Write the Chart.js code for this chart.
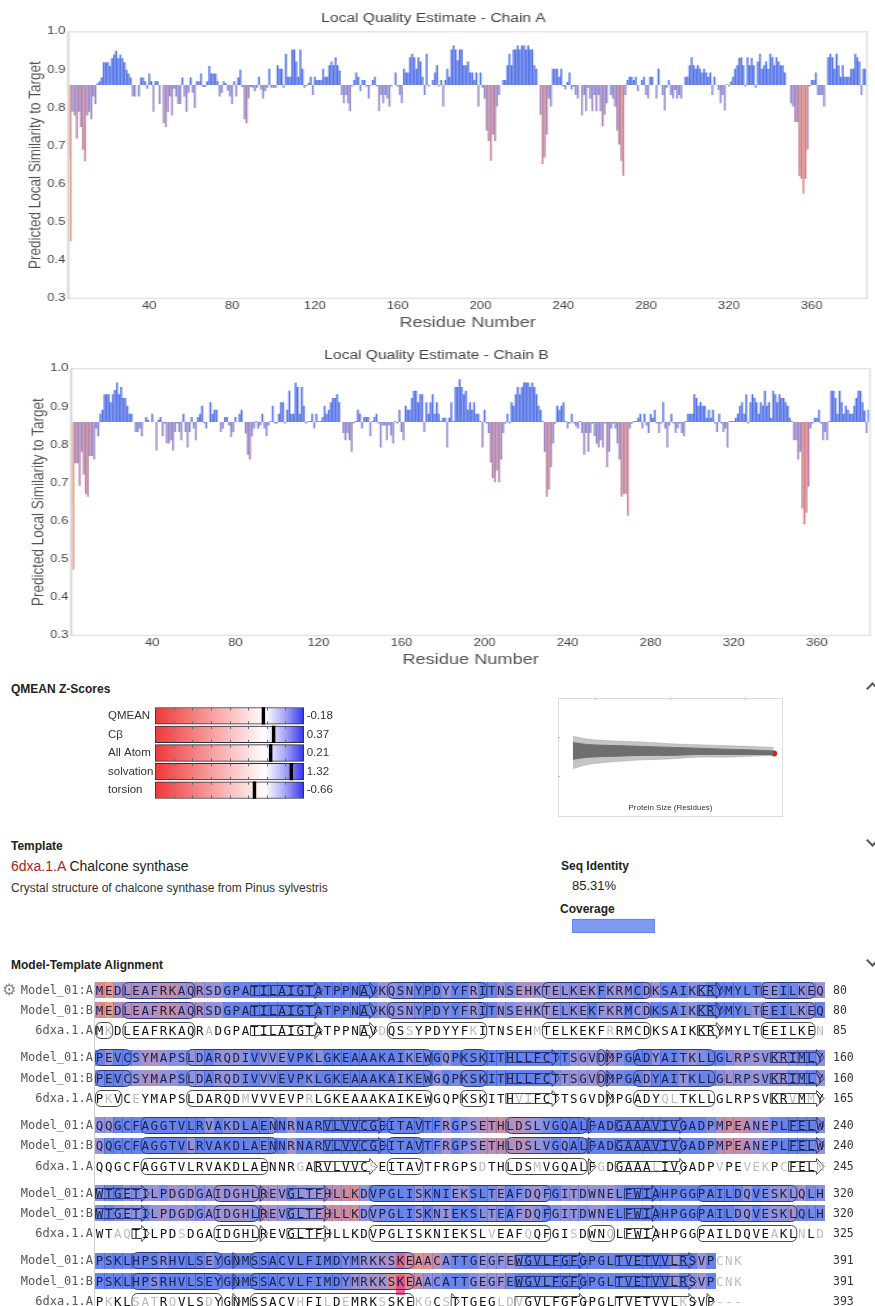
<!DOCTYPE html>
<html><head><meta charset="utf-8">
<script src="https://cdn.jsdelivr.net/npm/chart.js@4.4.1/dist/chart.umd.min.js"></script>
<style>
html,body{margin:0;padding:0;background:#fff}
body{width:875px;height:1306px;overflow:hidden;position:relative;font-family:"Liberation Sans",Arial,sans-serif;color:#222}
.a{position:absolute;white-space:nowrap}
.wrap{position:absolute;overflow:hidden}
.stretch{transform-origin:0 0;transform:scaleX(1.3);display:block}
.h{font-weight:bold;font-size:12px;line-height:12px;color:#222}
.mono{font-family:"DejaVu Sans Mono",monospace;font-size:12.5px}
.chev{position:absolute;width:7px;height:7px;border-left:2px solid #555;border-top:2px solid #555}
</style></head><body>

<div class="wrap" style="left:0;top:0;width:875px;height:337px"><canvas id="chainA" class="stretch" width="674" height="337"></canvas></div>
<div class="wrap" style="left:2.7px;top:336.6px;width:872.3px;height:337px"><canvas id="chainB" class="stretch" width="674" height="337"></canvas></div>

<div class="a h" style="left:11px;top:683.4px">QMEAN Z-Scores</div>
<canvas id="zchart" class="a" style="left:0;top:697.1px" width="345" height="112"></canvas>
<canvas id="sizechart" class="a" style="left:558px;top:698px" width="225" height="119"></canvas>

<div class="a h" style="left:11px;top:840.1px">Template</div>
<div class="a" style="left:11px;top:859.2px;font-size:14px;line-height:14px;color:#222"><span style="color:#a3262b">6dxa.1.A</span> Chalcone synthase</div>
<div class="a" style="left:11px;top:881.7px;font-size:12px;line-height:12px;color:#333">Crystal structure of chalcone synthase from Pinus sylvestris</div>
<div class="a h" style="left:561px;top:860.1px">Seq Identity</div>
<div class="a" style="left:572px;top:878.6px;font-size:13px;line-height:13px;color:#222">85.31%</div>
<div class="a h" style="left:560px;top:903.1px">Coverage</div>
<canvas id="covchart" class="a" style="left:572px;top:917px" width="83" height="18"></canvas>

<div class="a h" style="left:11px;top:959.1px">Model-Template Alignment</div>
<div class="chev" style="left:868px;top:684px;transform:rotate(45deg)"></div>
<div class="chev" style="left:868px;top:836px;transform:rotate(225deg)"></div>
<div class="chev" style="left:868px;top:956px;transform:rotate(225deg)"></div>

<div id="aln" class="a" style="left:0;top:0;width:875px;height:1306px"></div>

<script>
// ---------------- DATA ----------------
const xTicks = [40, 80, 120, 160, 200, 240, 280, 320, 360];
const yTicks = [0.3, 0.4, 0.5, 0.6, 0.7, 0.8, 0.9, 1.0];
const BASE = 0.86;

// Predicted local similarity per residue, chain A (residues 1..387 visible)
const chainA = [
0.67,0.45,0.79,0.78,0.72,0.79,0.75,0.69,0.66,0.78,
0.79,0.77,0.83,0.81,0.865,0.87,0.88,0.92,0.92,0.92,
0.91,0.93,0.94,0.95,0.93,0.94,0.93,0.92,0.90,0.89,
0.88,0.83,0.83,0.86,0.83,0.88,0.88,0.87,0.85,0.89,
0.87,0.79,0.87,0.87,0.81,0.86,0.76,0.75,0.79,0.83,
0.78,0.85,0.83,0.81,0.81,0.88,0.83,0.79,0.84,0.88,
0.84,0.80,0.87,0.87,0.89,0.855,0.855,0.87,0.91,0.89,
0.89,0.89,0.87,0.83,0.84,0.87,0.865,0.845,0.83,0.81,
0.87,0.83,0.88,0.90,0.855,0.77,0.76,0.825,0.855,0.853,
0.844,0.853,0.882,0.848,0.825,0.844,0.853,0.903,0.853,0.853,
0.853,0.912,0.903,0.903,0.853,0.942,0.882,0.882,0.953,0.953,
0.922,0.882,0.953,0.903,0.853,0.858,0.866,0.882,0.834,0.882,
0.873,0.873,0.873,0.903,0.882,0.882,0.912,0.922,0.912,0.933,
0.912,0.898,0.834,0.812,0.834,0.812,0.791,0.856,0.873,0.893,
0.882,0.844,0.873,0.873,0.856,0.825,0.858,0.873,0.882,0.856,
0.791,0.834,0.812,0.834,0.825,0.804,0.856,0.86,0.893,0.856,
0.834,0.812,0.903,0.893,0.893,0.933,0.942,0.933,0.903,0.933,
0.922,0.882,0.834,0.942,0.856,0.86,0.873,0.893,0.912,0.856,
0.873,0.804,0.873,0.903,0.882,0.953,0.964,0.953,0.925,0.953,
0.953,0.912,0.912,0.922,0.893,0.893,0.873,0.893,0.804,0.893,
0.853,0.825,0.741,0.713,0.661,0.73,0.713,0.804,0.834,0.86,
0.873,0.873,0.912,0.942,0.912,0.953,0.953,0.964,0.953,0.964,
0.964,0.953,0.964,0.953,0.953,0.912,0.903,0.86,0.782,0.653,
0.67,0.73,0.825,0.804,0.903,0.903,0.903,0.882,0.903,0.856,
0.848,0.868,0.893,0.848,0.856,0.834,0.825,0.86,0.78,0.834,
0.791,0.853,0.825,0.791,0.834,0.791,0.834,0.791,0.752,0.782,
0.812,0.86,0.834,0.825,0.804,0.741,0.704,0.661,0.622,0.834,
0.873,0.882,0.882,0.873,0.882,0.844,0.86,0.873,0.882,0.834,
0.825,0.882,0.882,0.86,0.825,0.903,0.86,0.834,0.793,0.853,
0.873,0.834,0.825,0.847,0.825,0.834,0.825,0.86,0.882,0.882,
0.912,0.933,0.912,0.903,0.912,0.903,0.893,0.903,0.893,0.882,
0.893,0.834,0.882,0.86,0.847,0.812,0.834,0.793,0.862,0.856,
0.869,0.882,0.903,0.912,0.931,0.933,0.912,0.856,0.933,0.912,
0.931,0.912,0.853,0.922,0.942,0.903,0.912,0.922,0.903,0.942,
0.933,0.912,0.933,0.922,0.912,0.912,0.893,0.86,0.86,0.812,
0.804,0.763,0.763,0.622,0.614,0.575,0.614,0.691,0.856,0.873,
0.873,0.893,0.834,0.834,0.834,0.804,0.86,0.933,0.942,0.933,
0.903,0.942,0.912,0.882,0.912,0.882,0.882,0.882,0.903,0.903,
0.942,0.933,0.922,0.834,0.903,0.903,0.812
];

// Predicted local similarity per residue, chain B
const chainB = [
0.641,0.473,0.752,0.752,0.693,0.782,0.722,0.672,0.664,0.771,
0.771,0.762,0.843,0.823,0.882,0.892,0.933,0.933,0.933,0.912,
0.933,0.944,0.964,0.933,0.952,0.923,0.923,0.903,0.882,0.882,
0.86,0.834,0.834,0.843,0.823,0.86,0.873,0.866,0.86,0.882,
0.86,0.785,0.866,0.873,0.823,0.856,0.804,0.804,0.812,0.785,
0.834,0.856,0.834,0.812,0.882,0.834,0.793,0.834,0.873,0.843,
0.812,0.873,0.882,0.903,0.857,0.843,0.86,0.912,0.882,0.892,
0.892,0.86,0.834,0.843,0.873,0.873,0.851,0.821,0.834,0.873,
0.86,0.882,0.892,0.86,0.83,0.774,0.762,0.823,0.843,0.863,
0.843,0.851,0.882,0.843,0.823,0.851,0.863,0.903,0.856,0.856,
0.882,0.912,0.912,0.856,0.892,0.942,0.882,0.882,0.964,0.952,
0.882,0.952,0.903,0.856,0.863,0.863,0.882,0.843,0.882,0.863,
0.863,0.873,0.903,0.882,0.892,0.912,0.923,0.923,0.933,0.912,
0.86,0.831,0.812,0.831,0.812,0.782,0.857,0.863,0.892,0.882,
0.843,0.873,0.873,0.873,0.823,0.863,0.873,0.882,0.856,0.793,
0.851,0.851,0.812,0.851,0.825,0.804,0.863,0.856,0.892,0.834,
0.812,0.903,0.892,0.892,0.923,0.942,0.942,0.912,0.933,0.933,
0.834,0.912,0.882,0.912,0.933,0.882,0.912,0.882,0.863,0.871,
0.871,0.793,0.871,0.912,0.863,0.952,0.952,0.972,0.952,0.933,
0.942,0.892,0.912,0.892,0.912,0.882,0.882,0.863,0.793,0.892,
0.856,0.831,0.754,0.713,0.702,0.733,0.702,0.762,0.831,0.856,
0.882,0.856,0.912,0.903,0.933,0.952,0.933,0.952,0.964,0.964,
0.964,0.952,0.964,0.952,0.933,0.903,0.892,0.863,0.782,0.664,
0.683,0.742,0.804,0.856,0.903,0.892,0.903,0.912,0.863,0.843,
0.856,0.882,0.856,0.849,0.843,0.863,0.831,0.774,0.831,0.782,
0.831,0.856,0.823,0.804,0.793,0.812,0.793,0.856,0.742,0.782,
0.843,0.856,0.843,0.804,0.762,0.664,0.672,0.672,0.614,0.843,
0.856,0.863,0.863,0.871,0.882,0.843,0.882,0.851,0.831,0.882,
0.871,0.892,0.856,0.831,0.856,0.912,0.843,0.793,0.851,0.882,
0.856,0.831,0.843,0.856,0.831,0.823,0.863,0.882,0.882,0.882,
0.933,0.923,0.903,0.912,0.903,0.903,0.871,0.892,0.871,0.892,
0.856,0.834,0.882,0.856,0.834,0.843,0.793,0.863,0.863,0.863,
0.871,0.882,0.903,0.912,0.882,0.933,0.856,0.912,0.933,0.923,
0.912,0.882,0.912,0.903,0.942,0.903,0.912,0.871,0.942,0.933,
0.912,0.933,0.923,0.923,0.912,0.903,0.871,0.863,0.812,0.812,
0.762,0.782,0.633,0.592,0.622,0.691,0.843,0.856,0.871,0.871,
0.892,0.856,0.812,0.834,0.812,0.863,0.942,0.942,0.923,0.882,
0.942,0.912,0.882,0.903,0.892,0.882,0.882,0.903,0.923,0.942,
0.942,0.912,0.89,0.831,0.892,0.851,0.812
];

// QMEAN Z-scores
const zLabels = ['QMEAN', 'C\u03b2', 'All Atom', 'solvation', 'torsion'];
const zValues = [-0.18, 0.37, 0.21, 1.32, -0.66];
const zRange = [-6, 2];

// Reference-set cloud (protein size vs score): envelopes
const sizeX      = [40,   50,   100,  200,  300,  400,  500,  600,  700,  780];
const lightUpper = [62.5, 62.1, 59.2, 57.3, 56.3, 54.4, 53.4, 52.4, 51.5, 50.5];
const lightLower = [27.0, 28.2, 32.0, 35.0, 36.9, 37.9, 39.8, 39.8, 40.8, 41.7];
const darkUpper  = [55.5, 55.3, 53.4, 52.4, 51.5, 50.5, 49.5, 48.5, 47.6, 46.6];
const darkLower  = [37.5, 37.9, 39.8, 40.8, 41.7, 41.7, 42.7, 42.7, 42.7, 42.7];
const modelPoint = {x: 782, y: 43.7};

const coverage = [1.0];

// Alignment
const modelBlocks = [
"MEDLEAFRKAQRSDGPATILAIGTATPPNAVKQSNYPDYYFRITNSEHKTELKEKFKRMCDKSAIKKRYMYLTEEILKEQ",
"PEVCSYMAPSLDARQDIVVVEVPKLGKEAAAKAIKEWGQPKSKITHLLFCTTSGVDMPGADYAITKLLGLRPSVKRIMLY",
"QQGCFAGGTVLRVAKDLAENNRNARVLVVCGEITAVTFRGPSETHLDSLVGQALFADGAAAVIVGADPMPEANEPLFELW",
"WTGETILPDGDGAIDGHLREVGLTFHLLKDVPGLISKNIEKSLTEAFDQFGITDWNELFWIAHPGGPAILDQVESKLQLH",
"PSKLHPSRHVLSEYGNMSSACVLFIMDYMRKKSKEAACATTGEGFEWGVLFGFGPGLTVETVVLRSVPCNK"
];
const templateBlocks = [
"MKDLEAFRKAQRADGPATILAIGTATPPNAVDQSSYPDYYFKITNSEHMTELKEKFRRMCDKSAIKKRYMYLTEEILKEN",
"PKVCEYMAPSLDARQDMVVVEVPRLGKEAAAKAIKEWGQPKSKITHVIFCTTSGVDMPGADYQLTKLLGLRPSVKRVMMY",
"QQGCFAGGTVLRVAKDLAENNRGARVLVVCSEITAVTFRGPSDTHLDSMVGQALFGDGAAALIVGADPVPEVEKPCFELM",
"WTAQTILPDSDGAIDGHLREVGLTFHLLKDVPGLISKNIEKSLVEAFQQFGISDWNQLFWIAHPGGPAILDQVEAKLNLD",
"PKKLSATRQVLSDYGNMSSACVHFILDEMRKSSKEKGCSTTGEGLDVGVLFGFGPGLTVETVVLKSVP---"
];
const modelEnds = [80, 160, 240, 320, 391];
const templateEnds = [85, 165, 245, 325, 393];
const modeledLast = 388;
// secondary structure [startCol, endCol, type] H = helix box, E = strand arrow
const ssModel = [
[4,11,'H'],[18,25,'E'],[30,31,'E'],[33,43,'H'],[50,61,'H'],[67,69,'E'],[74,79,'H'],
[81,84,'H'],[91,117,'H'],[121,123,'H'],[126,131,'E'],[136,136,'H'],[137,137,'E'],[140,148,'H'],[155,160,'E'],
[166,180,'H'],[186,192,'E'],[193,196,'H'],[206,214,'H'],[215,215,'E'],[218,225,'E'],[237,240,'E'],
[241,246,'E'],[254,258,'H'],[259,259,'E'],[262,266,'E'],[271,290,'H'],[299,302,'E'],[307,317,'H'],
[325,334,'H'],[336,336,'E'],[338,355,'H'],[367,374,'E'],[378,386,'E']
];
const ssTemplate = [
[1,2,'H'],[4,11,'H'],[18,25,'E'],[30,31,'E'],[33,43,'H'],[50,61,'H'],[67,69,'E'],[74,79,'H'],
[81,83,'H'],[91,117,'H'],[121,123,'H'],[126,131,'E'],[137,137,'E'],[140,148,'H'],[155,160,'E'],
[166,179,'H'],[185,191,'E'],[193,196,'H'],[206,214,'H'],[215,215,'E'],[218,225,'E'],[237,240,'E'],
[245,246,'E'],[254,258,'H'],[259,259,'E'],[262,266,'E'],[271,290,'H'],[295,297,'H'],[299,302,'E'],[307,317,'H'],
[325,334,'H'],[336,336,'E'],[338,355,'H'],[360,360,'E'],[367,374,'E'],[378,386,'E'],[388,388,'E']
];

// ---------------- STYLE / HELPERS ----------------
const FONT = "'Liberation Sans', Arial, sans-serif";
Chart.defaults.font.family = FONT;
Chart.defaults.color = '#444';

const RAMP = [[0.40,[240,120,80]],[0.50,[232,125,95]],[0.62,[202,110,120]],[0.72,[165,110,160]],
              [0.80,[135,118,195]],[0.85,[110,118,212]],[0.87,[62,98,226]],[1.0,[55,90,228]]];
function qualColor(v, alpha){
  if (v === undefined || v === null) v = 0.9;
  let c = RAMP[RAMP.length-1][1];
  if (v <= RAMP[0][0]) c = RAMP[0][1];
  for (let i=0;i<RAMP.length-1;i++){
    const [a,ca]=RAMP[i],[b,cb]=RAMP[i+1];
    if (v>=a && v<=b){const t=(v-a)/(b-a); c=ca.map((x,k)=>Math.round(x+(cb[k]-x)*t)); break;}
  }
  return `rgba(${c[0]},${c[1]},${c[2]},${alpha})`;
}

const frame = {id:'frame', afterDatasetsDraw(ch){
  const {ctx, chartArea:a} = ch; ctx.save();
  ctx.strokeStyle = '#e4e4e4'; ctx.lineWidth = 1.5;
  ctx.strokeRect(a.left, a.top, a.right-a.left, a.bottom-a.top);
  ctx.strokeStyle = '#d6d6d6'; ctx.beginPath(); ctx.moveTo(a.left, a.top); ctx.lineTo(a.left, a.bottom); ctx.stroke();
  ctx.restore();
}};

function qualityChart(id, title, values, xMin, xMax){
  const pts = values.map((v,i)=>({x:i+1, y:v}));
  return new Chart(document.getElementById(id), {
    type:'bar',
    data:{datasets:[{data:pts, base:BASE,
      backgroundColor: c => qualColor(c.raw ? c.raw.y : 0.9, 0.88),
      borderWidth:0, barPercentage:0.9, categoryPercentage:1}]},
    options:{
      responsive:false, animation:false,
      layout:{padding:{left:0, right:7.1, top:0, bottom:4.2}},
      plugins:{legend:{display:false}, tooltip:{enabled:false},
        title:{display:true, text:title, color:'#444', font:{size:12, weight:'normal'}, padding:{top:11.2, bottom:6.1}}},
      scales:{
        x:{type:'linear', offset:false, min:xMin, max:xMax, grid:{display:false, drawTicks:false, offset:false}, border:{display:false},
           afterBuildTicks: s => { s.ticks = xTicks.map(v=>({value:v})); },
           ticks:{color:'#444', font:{size:10, lineHeight:1}, padding:3.3, maxRotation:0, autoSkip:false},
           title:{display:true, text:'Residue Number', color:'#555', font:{size:14}, padding:{top:0, bottom:1}}},
        y:{type:'linear', min:0.3, max:1.0, grid:{display:false, drawTicks:false}, border:{display:false},
           afterBuildTicks: s => { s.ticks = yTicks.map(v=>({value:v})); },
           ticks:{color:'#444', font:{size:10}, padding:2.3, callback:v=>Number(v).toFixed(1)},
           title:{display:true, text:'Predicted Local Similarity to Target', color:'#555', font:{size:13.5}, padding:{top:19.2, bottom:0}},
           afterFit: s => { s.width = 52.5; }}
      }
    },
    plugins:[frame]
  });
}
qualityChart('chainA', 'Local Quality Estimate - Chain A', chainA, 0.87, 386.7);
qualityChart('chainB', 'Local Quality Estimate - Chain B', chainB, 0.99, 385.6);

// Z-score chart
const zTickMarks = {id:'zticks', afterDatasetDraw(ch, args){
  if (args.index !== 0) return;
  const xs = ch.scales.x, ctx = ch.ctx; ctx.save(); ctx.strokeStyle = '#666'; ctx.lineWidth = 1;
  args.meta.data.forEach(bar => {
    const t = bar.y - bar.height/2, b = bar.y + bar.height/2;
    for (let v = zRange[0]+1; v < zRange[1]; v++){
      const px = Math.round(xs.getPixelForValue(v)) + 0.5;
      ctx.beginPath(); ctx.moveTo(px, t); ctx.lineTo(px, t+3); ctx.moveTo(px, b-3); ctx.lineTo(px, b); ctx.stroke();
    }
  });
  ctx.restore();
}};
new Chart(document.getElementById('zchart'), {
  type:'bar',
  data:{labels:zLabels, datasets:[
    {data: zLabels.map(()=>zRange.slice()), grouped:false, order:2, barThickness:16.7,
     borderColor:'#2b2b3a', borderWidth:1, borderSkipped:false,
     backgroundColor: c => { const ch=c.chart; if(!ch.chartArea) return '#fff'; const xs=ch.scales.x;
        const g = ch.ctx.createLinearGradient(xs.getPixelForValue(zRange[0]),0,xs.getPixelForValue(zRange[1]),0);
        g.addColorStop(0,'#ef3838'); g.addColorStop(0.74,'#ffffff'); g.addColorStop(0.87,'#a9a9f6'); g.addColorStop(1,'#3434ee'); return g; }},
    {data: zValues.map(v=>[v-0.075, v+0.075]), grouped:false, order:1, barThickness:16.7, backgroundColor:'#000', borderWidth:0}
  ]},
  options:{indexAxis:'y', responsive:false, animation:false,
    layout:{padding:{left:108, right:0, top:0, bottom:0}},
    plugins:{legend:{display:false}, tooltip:{enabled:false}},
    scales:{
      x:{display:false, min:zRange[0], max:zRange[1]},
      y:{position:'left', grid:{display:false, drawTicks:false}, border:{display:false},
         ticks:{color:'#333', font:{size:11.5}, crossAlign:'far', padding:0}, afterFit:s=>{s.width=47;}},
      y2:{position:'right', type:'category', labels: zValues.map(v=>v.toFixed(2)), grid:{display:false, drawTicks:false}, border:{display:false},
         ticks:{color:'#333', font:{size:11.5}, padding:2.7}, afterFit:s=>{s.width=41;}}
    }},
  plugins:[zTickMarks]
});

// Protein size reference cloud
const boxFrame = {id:'boxFrame', afterDraw(ch){
  const c = ch.ctx; c.save(); c.strokeStyle='#dcdcdc'; c.lineWidth=1;
  c.strokeRect(0.5, 0.5, ch.width-1, ch.height-1);
  c.strokeStyle='#bbb';
  [37, 112, 187].forEach(x=>{c.beginPath(); c.moveTo(x+0.5,0); c.lineTo(x+0.5,2); c.stroke();});
  [39, 78].forEach(y=>{c.beginPath(); c.moveTo(0,y+0.5); c.lineTo(2,y+0.5); c.stroke();});
  c.restore();
}};
const env = arr => sizeX.map((x,i)=>({x, y:arr[i]}));
new Chart(document.getElementById('sizechart'), {
  type:'line',
  data:{datasets:[
    {data:env(lightUpper), fill:'+1', backgroundColor:'rgba(150,150,150,0.55)', borderColor:'rgba(150,150,150,0.4)', borderWidth:1, pointRadius:0, tension:0.35},
    {data:env(lightLower), fill:false, borderColor:'rgba(150,150,150,0.4)', borderWidth:1, pointRadius:0, tension:0.35},
    {data:env(darkUpper), fill:'+1', backgroundColor:'#3f3f3f', borderColor:'#3f3f3f', borderWidth:1, pointRadius:0, tension:0.35},
    {data:env(darkLower), fill:false, borderColor:'#3f3f3f', borderWidth:1, pointRadius:0, tension:0.35},
    {type:'scatter', data:[modelPoint], pointRadius:3, backgroundColor:'#e41a1a', borderWidth:0}
  ]},
  options:{responsive:false, animation:false,
    layout:{padding:0},
    plugins:{legend:{display:false}, tooltip:{enabled:false}},
    scales:{
      x:{type:'linear', min:0, max:800, grid:{display:false}, border:{display:false}, ticks:{display:false},
         title:{display:true, text:'Protein Size (Residues)', color:'#333', font:{size:8}, padding:{top:1, bottom:4.8}}},
      y:{display:false, min:0, max:100}
    }},
  plugins:[boxFrame]
});

// Coverage bar
new Chart(document.getElementById('covchart'), {
  type:'bar',
  data:{labels:['coverage'], datasets:[{data:coverage, backgroundColor:'#7d99f1', borderColor:'#5f7fe4', borderWidth:1, borderSkipped:false, barThickness:14}]},
  options:{indexAxis:'y', responsive:false, animation:false, layout:{padding:0},
    plugins:{legend:{display:false}, tooltip:{enabled:false}},
    scales:{x:{display:false, min:0, max:1}, y:{display:false}}}
});

// ---------------- Alignment ----------------
const AL = {x0:95, cw:9.12, y0:990, bp:67.7, rp:20.3};
function ssSvg(segs, b, color){
  const lo = b*80+1, hi = b*80+80; let s = '';
  for (const [a,e,t] of segs){
    if (e < lo || a > hi) continue;
    const x0 = (a-lo)*AL.cw + 0.5, x1 = (e-lo+1)*AL.cw - 0.5;
    if (t === 'H') s += `<rect x="${x0.toFixed(2)}" y="0.5" width="${(x1-x0).toFixed(2)}" height="16" rx="5.5" ry="5.5"/>`;
    else { const xh = Math.max(x0, x1-7.5);
      s += `<polygon points="${x0.toFixed(2)},3.5 ${xh.toFixed(2)},3.5 ${xh.toFixed(2)},0.5 ${x1.toFixed(2)},8.5 ${xh.toFixed(2)},16.5 ${xh.toFixed(2)},13.5 ${x0.toFixed(2)},13.5"/>`; }
  }
  return `<svg width="${80*AL.cw+4}" height="17" style="position:absolute;left:${AL.x0}px;top:0;overflow:visible" fill="none" stroke="${color}" stroke-width="1">${s}</svg>`;
}
(function(){
  let html = `<div class="a" style="left:94px;top:982px;width:1px;height:324px;background:#cfcfcf"></div>`;
  html += `<div class="a" style="left:2px;top:981px;font-size:16px;line-height:18px;color:#8a8a8a;font-family:'DejaVu Sans'">\u2699</div>`;
  for (let b=0;b<5;b++){
    const rows = [
      {label:'Model_01:A', seq:modelBlocks[b], q:chainA, kind:'m', end:modelEnds[b]},
      {label:'Model_01:B', seq:modelBlocks[b], q:chainB, kind:'m', end:modelEnds[b]},
      {label:'6dxa.1.A', seq:templateBlocks[b], kind:'t', end:templateEnds[b]}
    ];
    rows.forEach((r,k)=>{
      const yc = AL.y0 + b*AL.bp + k*AL.rp;
      let inner = `<div class="a" style="left:0;width:93px;text-align:right;top:0;line-height:17px;color:#555;font-family:'DejaVu Sans Mono',monospace;font-size:12px">${r.label}</div>`;
      if (r.kind === 'm'){
        for (let i=0;i<r.seq.length;i++){
          const res = b*80+i+1; if (res > modeledLast) continue;
          inner += `<div class="a" style="left:${(AL.x0+i*AL.cw).toFixed(2)}px;top:0.5px;width:${(AL.cw+0.4).toFixed(2)}px;height:16px;background:${qualColor(r.q[res-1],0.78)}"></div>`;
          if (res === 354){
            inner += k===0 ? `<div class="a" style="left:${(AL.x0+i*AL.cw).toFixed(2)}px;top:0.5px;width:${AL.cw}px;height:16px;background:rgba(225,50,110,0.45)"></div>`
                           : `<div class="a" style="left:${(AL.x0+i*AL.cw).toFixed(2)}px;top:2.5px;width:${AL.cw}px;height:20px;background:rgba(228,70,130,0.85)"></div>`;
          }
        }
      }
      inner += ssSvg(r.kind==='t'?ssTemplate:ssModel, b, r.kind==='t'?'#4a4a4a':'#2c3a80');
      let t = '';
      for (let i=0;i<r.seq.length;i++){
        const ch = r.seq[i];
        const gray = r.kind==='t' ? ch !== modelBlocks[b][i] : (b*80+i+1) > modeledLast;
        t += gray ? `<span style="color:#bdbdbd">${ch}</span>` : ch;
      }
      inner += `<div class="a mono" style="left:${AL.x0+0.8}px;top:0;line-height:17px;letter-spacing:1.594px;color:${r.kind==='t'?'#111':'#1b1f4a'}">${t}</div>`;
      inner += `<div class="a" style="left:833px;top:0;line-height:17px;color:#333;font-family:'DejaVu Sans Mono',monospace;font-size:11.5px">${r.end}</div>`;
      html += `<div class="a" style="left:0;top:${(yc-8.5).toFixed(2)}px;width:875px;height:17px">${inner}</div>`;
    });
  }
  document.getElementById('aln').innerHTML = html;
})();
</script>
</body></html>
